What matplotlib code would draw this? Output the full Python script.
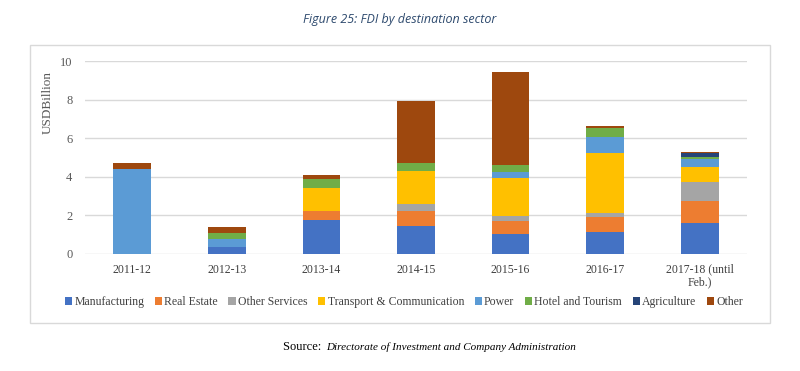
import numpy as np
import matplotlib
matplotlib.use("Agg")
import matplotlib.pyplot as plt
from matplotlib.patches import Rectangle

# values (USD billion)
years = ["2011-12", "2012-13", "2013-14", "2014-15", "2015-16", "2016-17", "2017-18 (until\nFeb.)"]
sectors = ["Manufacturing", "Real Estate", "Other Services", "Transport & Communication",
           "Power", "Hotel and Tourism", "Agriculture", "Other"]
manufacturing = [0.00, 0.35, 1.76, 1.45, 1.02, 1.16, 1.62]
real_estate   = [0.00, 0.00, 0.47, 0.79, 0.69, 0.74, 1.13]
other_serv    = [0.00, 0.00, 0.00, 0.33, 0.26, 0.21, 1.00]
transport     = [0.00, 0.00, 1.21, 1.73, 1.95, 3.11, 0.74]
power         = [4.38, 0.42, 0.00, 0.00, 0.35, 0.86, 0.43]
hotel         = [0.00, 0.30, 0.43, 0.40, 0.34, 0.43, 0.12]
agriculture   = [0.00, 0.00, 0.00, 0.00, 0.00, 0.04, 0.18]
other         = [0.32, 0.31, 0.22, 3.24, 4.80, 0.08, 0.05]

series = [manufacturing, real_estate, other_serv, transport, power, hotel, agriculture, other]
colors = ["#4472C4", "#ED7D31", "#A5A5A5", "#FFC000", "#5B9BD5", "#70AD47", "#264478", "#9E480E"]

serif = ["Liberation Serif", "DejaVu Serif"]

fig = plt.figure(figsize=(8, 3.71), dpi=100)
ax = fig.add_axes([85 / 800, 1 - 254 / 371, 662 / 800, 193 / 371])

x = np.arange(len(years))
bottom = np.zeros(len(years))
for name, vals, c in zip(sectors, series, colors):
    ax.bar(x, vals, 0.4, bottom=bottom, color=c, label=name, zorder=3)
    bottom += np.array(vals)

ax.set_xlim(-0.5, len(years) - 0.5)
ax.set_ylim(0, 10)
ax.set_yticks([0, 2, 4, 6, 8, 10])
ax.set_xticks(x)
ax.set_xticklabels(years, fontfamily=serif, fontsize=8.5, color="#404040", linespacing=1.1)
for lab in ax.get_yticklabels():
    lab.set_fontfamily(serif)
    lab.set_fontsize(9)
    lab.set_color("#595959")
ax.tick_params(length=0, pad=7)
ax.tick_params(axis="y", pad=9)
ax.grid(axis="y", color="#D9D9D9", lw=1, zorder=0)
for s in ax.spines.values():
    s.set_visible(False)

fig.text(48 / 800, 1 - 102 / 371, "USDBillion", rotation=90, ha="center", va="center",
         fontfamily=serif, fontsize=9.5, color="#595959")

leg = fig.legend(loc="center", bbox_to_anchor=(404 / 800, 1 - 302 / 371), ncol=8, frameon=False,
                 prop={"family": serif, "size": 8.5}, handlelength=0.6, handleheight=0.6,
                 handletextpad=0.2, columnspacing=0.9)
for t in leg.get_texts():
    t.set_color("#404040")

# chart border
fig.patches.append(Rectangle((30 / 800, 1 - 323 / 371), 740 / 800, 278 / 371, transform=fig.transFigure,
                             fill=False, edgecolor="#D9D9D9", lw=1))

fig.text(400 / 800, 1 - 20 / 371, "Figure 25: FDI by destination sector", ha="center", va="center",
         fontfamily="Open Sans", style="italic", fontsize=9, color="#2E4A6E")

fig.text(324 / 800, 1 - 347 / 371, "Source: ", ha="right", va="center", fontfamily=serif,
         fontsize=9, color="black")
fig.text(326 / 800, 1 - 347 / 371, "Directorate of Investment and Company Administration", ha="left",
         va="center", fontfamily=serif, style="italic", fontsize=8, color="black")

fig.savefig("out.png", dpi=100)
